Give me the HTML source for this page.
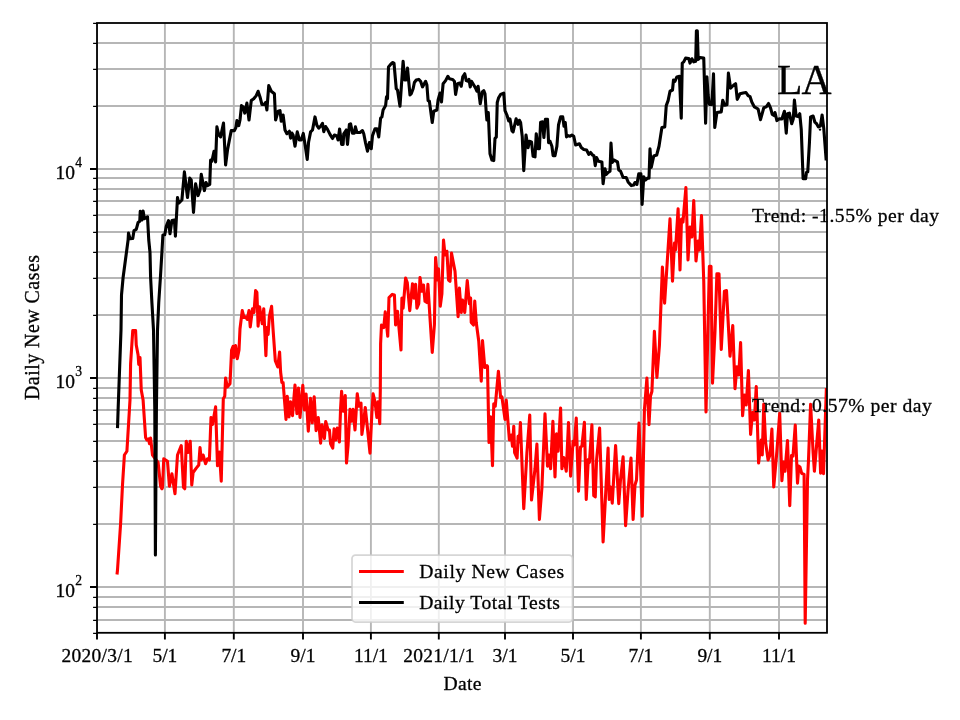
<!DOCTYPE html>
<html lang="en"><head><meta charset="utf-8"><title>LA</title>
<style>html,body{margin:0;padding:0;background:#fff;}body{width:960px;height:720px;overflow:hidden;}svg{display:block;}text{font-family:"Liberation Serif",serif;fill:#000;stroke:#000;stroke-width:0.3px;}</style></head><body>
<svg width="960" height="720" viewBox="0 0 960 720">
<rect x="0" y="0" width="960" height="720" fill="#ffffff"/>
<defs><clipPath id="ax"><rect x="97.0" y="23.0" width="730.0" height="609.8"/></clipPath></defs>
<path d="M97 23.0V632.8M164.9 23.0V632.8M233.8 23.0V632.8M303 23.0V632.8M370.9 23.0V632.8M438.8 23.0V632.8M505 23.0V632.8M573 23.0V632.8M640.9 23.0V632.8M709.8 23.0V632.8M779 23.0V632.8M97.0 587H827.0M97.0 378H827.0M97.0 169H827.0M97.0 620H827.0M97.0 607H827.0M97.0 597H827.0M97.0 524H827.0M97.0 487H827.0M97.0 461H827.0M97.0 441H827.0M97.0 424H827.0M97.0 410H827.0M97.0 398H827.0M97.0 388H827.0M97.0 315H827.0M97.0 278H827.0M97.0 252H827.0M97.0 232H827.0M97.0 215H827.0M97.0 201H827.0M97.0 189H827.0M97.0 178H827.0M97.0 106H827.0M97.0 69H827.0M97.0 43H827.0" stroke="#b6b6b6" stroke-width="1.9" fill="none" clip-path="url(#ax)"/>
<path d="M117.00 574.50 L117.50 570.00 L120.60 523.75 L122.50 485.00 L124.40 455.00 L126.90 451.25 L129.40 410.00 L130.00 400.00 L130.60 363.75 L132.75 330.60 L135.60 330.60 L136.25 345.00 L138.10 355.00 L138.75 364.40 L140.00 357.50 L141.25 390.00 L143.10 400.00 L143.75 410.00 L145.60 437.50 L146.90 440.00 L148.50 439.00 L149.50 443.75 L150.60 438.10 L152.50 455.00 L158.10 462.50 L160.60 486.25 L161.90 488.75 L162.50 487.50 L163.75 458.75 L167.50 461.25 L169.40 486.25 L171.90 473.75 L175.00 493.75 L177.50 455.00 L181.25 445.60 L183.50 487.50 L184.75 488.75 L186.25 441.25 L188.10 452.50 L190.25 441.25 L191.75 485.00 L193.10 472.50 L196.25 468.10 L198.75 465.00 L200.00 447.50 L201.25 460.00 L203.10 455.00 L205.60 463.75 L207.50 458.75 L209.40 460.00 L211.00 417.50 L212.50 424.40 L215.60 406.90 L217.50 465.60 L219.40 452.00 L221.25 481.25 L223.30 398.75 L224.75 396.25 L225.60 378.10 L227.25 386.90 L230.00 383.75 L231.60 350.00 L233.10 346.25 L233.75 357.50 L235.60 345.60 L237.25 358.75 L239.00 350.00 L240.00 328.75 L242.25 310.60 L244.00 317.50 L245.60 316.90 L247.25 319.40 L249.00 310.60 L250.25 326.90 L252.50 308.75 L254.00 312.50 L255.60 290.60 L256.90 292.50 L258.10 326.25 L259.60 306.90 L261.25 317.50 L262.25 323.75 L263.75 308.75 L265.90 355.60 L266.90 327.50 L268.10 334.40 L269.40 316.25 L271.60 306.25 L273.10 330.00 L275.30 360.60 L277.80 367.00 L279.60 352.00 L280.60 372.00 L281.90 382.50 L283.10 382.50 L286.00 419.40 L287.25 396.25 L289.00 416.90 L290.60 401.90 L292.50 415.60 L295.00 385.00 L296.90 413.75 L298.50 388.10 L300.00 417.50 L302.80 385.30 L304.40 410.00 L306.10 394.00 L308.30 431.25 L310.50 398.40 L312.25 422.80 L314.20 396.90 L316.10 430.60 L318.25 417.50 L320.60 443.10 L322.00 424.70 L324.40 438.40 L325.70 421.50 L328.10 430.00 L329.40 430.00 L330.60 443.75 L332.75 448.10 L334.10 428.75 L335.60 440.00 L337.25 428.10 L339.40 441.90 L340.60 408.10 L341.60 391.25 L343.10 411.25 L345.25 395.60 L346.50 463.00 L348.10 445.00 L350.00 409.40 L351.50 421.25 L353.10 409.40 L355.00 430.00 L357.25 393.75 L359.00 406.25 L361.00 403.10 L361.90 434.40 L363.75 421.25 L365.25 407.50 L367.50 428.75 L370.00 453.10 L371.90 412.50 L373.10 393.75 L375.00 401.90 L376.90 417.50 L378.10 401.90 L379.75 423.75 L380.30 390.00 L380.60 343.75 L381.50 325.00 L383.75 327.50 L385.25 311.90 L387.75 336.25 L389.00 297.50 L392.25 294.40 L394.40 295.00 L395.60 325.00 L397.50 311.25 L401.00 350.00 L401.90 298.10 L403.10 308.10 L405.60 278.10 L407.25 282.50 L409.75 310.60 L412.50 283.75 L414.00 298.10 L415.60 284.40 L416.90 308.10 L418.75 303.75 L420.00 277.50 L421.90 291.25 L423.50 285.00 L425.00 301.25 L426.90 302.50 L427.90 284.40 L430.00 318.00 L432.25 352.50 L434.40 325.00 L435.60 257.50 L437.50 280.00 L438.50 268.75 L440.25 306.25 L441.90 293.75 L443.50 240.00 L445.00 255.00 L446.90 251.25 L448.50 280.00 L450.00 281.25 L451.50 253.10 L455.00 271.25 L458.10 316.60 L459.40 288.10 L461.25 312.50 L462.50 300.00 L464.75 312.50 L467.25 280.60 L469.40 303.75 L470.60 298.10 L471.25 322.50 L473.50 325.00 L474.75 301.00 L476.25 322.50 L478.75 341.25 L481.25 381.25 L482.50 340.60 L484.75 367.50 L486.90 365.60 L487.50 366.25 L489.00 442.50 L490.60 416.90 L492.50 465.60 L493.75 403.75 L495.25 406.25 L498.40 371.25 L500.60 397.50 L501.90 396.90 L505.00 419.40 L506.25 400.00 L509.40 440.00 L511.25 435.00 L512.50 446.25 L513.75 426.25 L514.60 452.50 L517.10 458.10 L518.10 436.25 L519.40 442.00 L520.40 422.50 L523.75 508.75 L526.90 453.00 L529.75 415.00 L531.50 500.00 L535.00 468.75 L536.90 444.00 L539.40 519.40 L541.90 488.00 L545.00 413.75 L547.50 466.25 L549.00 455.00 L550.60 468.75 L552.90 421.25 L555.00 476.90 L556.50 433.75 L558.10 451.25 L560.60 408.10 L561.90 468.75 L563.75 457.50 L566.25 471.25 L568.50 422.50 L570.60 476.25 L573.10 441.25 L574.30 445.00 L576.25 418.10 L578.50 491.25 L580.50 447.00 L581.90 446.25 L584.40 422.20 L586.25 499.40 L588.30 459.50 L589.40 462.50 L591.90 424.80 L593.75 495.60 L595.25 496.90 L596.50 461.00 L599.60 428.10 L603.10 541.90 L608.10 448.10 L609.20 499.40 L610.60 487.00 L612.25 503.10 L615.60 445.60 L618.75 503.75 L620.50 480.00 L623.10 456.90 L625.60 525.60 L628.10 490.00 L631.00 458.10 L633.10 519.40 L635.00 485.00 L636.50 480.00 L639.00 423.10 L642.25 516.25 L644.40 410.00 L646.90 378.10 L649.00 424.60 L650.50 396.00 L651.90 391.50 L654.40 331.25 L656.90 377.50 L659.40 345.60 L662.40 267.00 L664.60 303.10 L670.00 218.75 L672.50 281.25 L674.50 243.00 L675.50 250.00 L678.10 208.75 L680.00 270.00 L681.50 219.00 L683.00 222.00 L685.90 187.50 L688.00 260.00 L690.00 227.00 L691.90 237.00 L693.75 200.60 L696.00 261.00 L698.10 241.00 L699.40 250.00 L701.50 215.60 L703.75 281.25 L706.00 412.00 L709.40 266.25 L711.00 266.25 L712.50 383.10 L715.00 331.25 L716.90 273.75 L719.00 273.75 L721.25 349.40 L724.40 291.25 L726.50 290.60 L730.00 356.25 L732.75 325.60 L735.00 388.75 L736.90 366.90 L738.75 375.00 L740.60 342.50 L742.60 415.60 L744.40 395.00 L746.25 405.00 L748.40 370.60 L750.60 434.40 L752.50 412.50 L754.40 420.00 L756.25 386.50 L758.60 463.00 L761.25 440.00 L762.25 455.00 L763.75 404.00 L765.60 442.50 L768.10 460.00 L770.00 455.00 L771.90 429.00 L773.75 486.90 L776.90 451.25 L779.70 413.40 L781.90 480.60 L783.50 462.00 L785.00 471.25 L787.50 440.60 L789.75 505.60 L791.50 455.60 L793.00 456.00 L795.25 425.00 L797.50 483.10 L798.80 466.00 L800.00 467.20 L801.70 473.30 L804.10 474.50 L805.20 623.20 L807.50 480.00 L808.50 460.00 L810.60 404.40 L813.10 452.50 L814.40 471.25 L818.75 420.00 L820.60 473.10 L822.00 451.00 L823.50 473.75 L826.40 388.00" stroke="#ff0000" stroke-width="3.1" fill="none" stroke-linejoin="round" stroke-linecap="butt" clip-path="url(#ax)"/>
<path d="M117.50 428.10 L118.10 410.00 L120.00 357.50 L121.00 330.00 L121.50 295.00 L123.10 277.50 L125.60 258.75 L128.10 240.00 L128.50 233.10 L130.00 238.75 L132.75 238.50 L134.00 230.60 L136.25 229.40 L138.10 222.50 L139.75 221.25 L140.25 211.25 L141.90 220.00 L143.10 211.00 L144.40 218.75 L147.50 216.90 L148.75 240.00 L150.00 252.50 L150.60 277.50 L151.90 302.50 L153.50 330.00 L154.80 410.00 L155.40 555.00 L156.40 410.00 L157.50 330.00 L158.75 302.50 L160.40 277.50 L161.90 252.50 L162.90 235.00 L164.75 234.75 L166.25 226.25 L168.50 220.60 L170.00 233.75 L171.90 220.60 L174.40 220.00 L175.40 236.25 L177.50 197.50 L178.75 203.10 L181.90 200.00 L184.40 171.90 L187.50 197.50 L189.75 178.10 L191.25 180.00 L193.50 212.50 L195.60 183.75 L198.10 195.60 L200.00 190.00 L201.25 174.40 L204.40 190.60 L206.00 182.50 L207.50 185.60 L209.75 184.40 L210.60 160.00 L211.90 161.25 L214.00 151.25 L215.60 161.90 L216.90 126.90 L218.75 135.00 L220.60 136.90 L223.50 123.10 L225.60 165.00 L227.50 150.00 L229.40 140.00 L231.25 130.60 L234.40 130.60 L235.90 127.50 L236.90 120.60 L238.75 125.60 L240.00 120.00 L241.50 105.60 L243.10 106.90 L244.75 113.10 L246.90 103.10 L249.00 120.00 L251.25 100.60 L253.75 98.75 L256.25 95.60 L258.10 91.25 L260.00 96.90 L261.90 104.40 L264.40 104.40 L265.60 102.50 L266.90 110.00 L268.75 85.60 L271.25 91.25 L274.40 93.75 L275.60 120.00 L278.10 111.25 L280.00 110.60 L281.25 121.25 L283.10 115.00 L285.00 130.00 L286.90 133.75 L289.40 131.25 L290.60 138.10 L291.90 133.10 L293.10 135.00 L295.00 146.25 L297.25 131.90 L299.40 140.00 L301.25 140.00 L303.30 133.40 L305.30 146.25 L307.25 159.40 L308.60 142.00 L310.60 131.90 L312.50 130.00 L315.00 116.90 L316.90 125.30 L318.75 128.10 L320.60 126.25 L322.50 123.40 L323.75 131.60 L325.60 126.50 L327.50 129.40 L330.00 134.40 L332.50 138.50 L334.40 135.00 L336.90 136.00 L338.10 140.00 L339.60 129.00 L341.60 144.40 L343.10 144.40 L343.75 133.75 L346.25 130.00 L347.50 144.40 L349.40 124.40 L350.60 123.75 L352.50 133.10 L354.40 133.10 L355.40 126.90 L356.90 132.50 L360.00 132.50 L362.50 130.60 L363.75 133.75 L365.60 143.10 L367.50 151.25 L369.40 142.50 L371.25 148.75 L372.50 135.60 L375.00 128.75 L376.90 128.75 L378.75 136.90 L380.60 118.10 L381.90 116.90 L383.10 110.00 L385.60 105.60 L386.50 96.90 L387.50 98.75 L388.50 66.90 L390.60 64.40 L392.50 62.50 L394.00 63.10 L396.25 88.75 L397.50 90.00 L400.00 106.25 L403.10 61.25 L404.75 80.00 L406.00 80.00 L407.50 68.10 L410.00 95.00 L411.25 93.75 L413.10 88.75 L414.40 82.50 L416.25 80.00 L418.75 79.40 L420.60 81.25 L422.50 86.90 L425.60 81.25 L426.90 85.00 L428.10 100.60 L429.40 101.25 L432.25 122.50 L433.75 111.25 L436.90 110.00 L438.10 100.00 L440.00 93.10 L441.50 101.90 L443.10 83.75 L445.60 80.60 L447.90 76.25 L449.40 78.75 L452.50 79.40 L454.40 81.25 L455.60 94.40 L457.50 83.75 L459.75 83.10 L461.25 86.25 L462.75 76.90 L464.75 73.75 L466.25 80.60 L468.10 81.25 L469.00 79.40 L470.25 86.90 L471.50 81.25 L473.75 85.00 L475.60 88.10 L476.90 91.25 L478.10 86.25 L480.25 103.75 L482.25 91.90 L483.75 90.60 L485.00 93.75 L486.25 112.50 L486.90 120.00 L488.30 112.50 L490.00 153.75 L491.90 160.00 L493.75 160.60 L495.00 138.40 L496.30 137.20 L497.25 102.50 L498.50 98.10 L500.60 94.40 L503.75 93.10 L505.00 110.60 L506.90 115.00 L508.75 121.00 L510.00 119.00 L511.90 130.60 L513.10 131.90 L516.10 118.75 L518.10 124.40 L519.40 120.30 L520.60 122.50 L522.25 136.60 L523.75 170.60 L526.00 135.00 L528.10 147.80 L529.40 141.25 L531.50 141.90 L533.10 156.25 L535.00 156.90 L536.25 133.75 L538.10 148.75 L539.40 148.75 L540.60 122.20 L542.50 121.90 L543.90 137.50 L545.40 119.40 L547.50 119.40 L548.60 142.80 L550.00 141.25 L551.90 146.25 L553.10 155.60 L555.00 155.60 L556.90 146.25 L558.50 125.00 L560.60 116.90 L562.75 116.90 L564.00 126.25 L565.25 122.50 L566.50 136.90 L568.10 135.60 L570.00 136.25 L571.90 135.00 L573.75 136.25 L575.60 145.00 L579.40 143.75 L581.25 147.50 L583.75 149.40 L586.60 150.00 L588.75 154.40 L590.60 152.50 L592.50 155.00 L593.90 155.60 L595.25 165.60 L596.50 157.50 L598.40 161.25 L601.90 161.90 L603.10 183.75 L605.00 168.75 L606.25 174.40 L608.10 172.50 L610.00 171.25 L611.00 143.10 L612.25 162.50 L613.75 160.00 L617.50 161.90 L618.75 170.00 L620.60 171.25 L623.10 177.50 L626.25 177.50 L628.10 181.90 L631.25 185.60 L633.75 185.00 L635.00 182.50 L636.90 184.40 L638.75 173.75 L640.90 173.75 L642.10 204.40 L643.75 176.90 L645.60 180.00 L647.50 178.10 L649.00 178.10 L650.00 148.75 L651.25 167.50 L653.75 156.00 L656.70 155.00 L659.00 146.25 L661.90 127.50 L664.75 126.90 L666.25 105.60 L668.10 100.60 L670.00 91.25 L672.50 90.00 L673.50 80.00 L675.00 81.25 L676.90 76.90 L679.40 76.25 L681.25 118.10 L682.25 63.10 L683.75 61.90 L685.60 58.10 L688.75 58.50 L690.00 63.10 L691.90 58.75 L693.75 61.90 L695.70 61.25 L696.40 30.80 L697.30 30.80 L698.20 59.40 L700.00 57.50 L703.75 58.10 L705.60 123.10 L706.90 76.90 L708.10 95.00 L709.40 104.40 L711.90 104.40 L713.50 73.75 L714.75 127.50 L716.90 112.50 L721.25 111.90 L722.75 100.30 L724.75 105.30 L727.00 104.70 L728.40 73.10 L730.60 88.10 L733.75 85.00 L735.60 83.75 L737.25 99.40 L740.00 93.75 L743.10 93.10 L746.00 92.50 L748.10 95.60 L750.00 96.60 L751.90 102.20 L754.40 106.90 L758.10 109.00 L760.50 119.70 L763.75 107.80 L766.25 106.90 L768.50 103.50 L770.60 108.10 L772.25 114.40 L774.40 115.60 L775.00 112.50 L776.90 120.60 L779.40 118.75 L781.90 119.00 L784.40 111.25 L786.25 133.10 L787.50 113.75 L789.40 113.10 L791.70 123.75 L793.30 118.75 L794.40 100.00 L796.10 116.00 L798.10 116.60 L799.75 113.75 L801.25 129.40 L803.10 178.75 L805.60 178.75 L806.50 172.50 L807.75 171.90 L809.40 143.10 L810.60 116.90 L813.10 116.00 L814.90 122.20 L816.60 123.75 L818.40 126.90 L820.40 126.00 L822.10 115.00 L823.75 128.10 L826.20 160.50" stroke="#000000" stroke-width="3.1" fill="none" stroke-linejoin="round" stroke-linecap="butt" clip-path="url(#ax)"/>
<circle cx="820" cy="129.6" r="1.2" fill="#000"/>
<rect x="97.0" y="23.0" width="730.0" height="609.8" fill="none" stroke="#000" stroke-width="1.8"/>
<path d="M97 632.8v6.8M164.9 632.8v6.8M233.8 632.8v6.8M303 632.8v6.8M370.9 632.8v6.8M438.8 632.8v6.8M505 632.8v6.8M573 632.8v6.8M640.9 632.8v6.8M709.8 632.8v6.8M779 632.8v6.8M97.0 587h-7M97.0 378h-7M97.0 169h-7" stroke="#000" stroke-width="1.9" fill="none"/>
<path d="M97.0 633.4h-3.9M97.0 620.4h-3.9M97.0 607.4h-3.9M97.0 597.4h-3.9M97.0 524.4h-3.9M97.0 487.4h-3.9M97.0 461.4h-3.9M97.0 441.4h-3.9M97.0 424.4h-3.9M97.0 410.4h-3.9M97.0 398.4h-3.9M97.0 388.4h-3.9M97.0 315.4h-3.9M97.0 278.4h-3.9M97.0 252.4h-3.9M97.0 232.4h-3.9M97.0 215.4h-3.9M97.0 201.4h-3.9M97.0 189.4h-3.9M97.0 178.4h-3.9M97.0 106.4h-3.9M97.0 69.4h-3.9M97.0 43.4h-3.9M97.0 23.4h-3.9" stroke="#000" stroke-width="1.3" fill="none"/>
<g style="opacity:0.999">
<text x="61.4" y="662" font-size="19.44" textLength="71.2" lengthAdjust="spacing">2020/3/1</text>
<text x="164.9" y="662" font-size="19.44" text-anchor="middle">5/1</text>
<text x="233.8" y="662" font-size="19.44" text-anchor="middle">7/1</text>
<text x="303.0" y="662" font-size="19.44" text-anchor="middle">9/1</text>
<text x="370.9" y="662" font-size="19.44" text-anchor="middle">11/1</text>
<text x="403.2" y="662" font-size="19.44" textLength="71.2" lengthAdjust="spacing">2021/1/1</text>
<text x="505.0" y="662" font-size="19.44" text-anchor="middle">3/1</text>
<text x="573.0" y="662" font-size="19.44" text-anchor="middle">5/1</text>
<text x="640.9" y="662" font-size="19.44" text-anchor="middle">7/1</text>
<text x="709.8" y="662" font-size="19.44" text-anchor="middle">9/1</text>
<text x="779.0" y="662" font-size="19.44" text-anchor="middle">11/1</text>
<text x="443.6" y="689.7" font-size="19.6" textLength="37.8" lengthAdjust="spacing">Date</text>
<text x="82" y="596.5" font-size="19.44" text-anchor="end">10<tspan font-size="13.6" dy="-11.5" dx="0.2">2</tspan></text>
<text x="82" y="387.5" font-size="19.44" text-anchor="end">10<tspan font-size="13.6" dy="-11.5" dx="0.2">3</tspan></text>
<text x="82" y="178.5" font-size="19.44" text-anchor="end">10<tspan font-size="13.6" dy="-11.5" dx="0.2">4</tspan></text>
<text transform="translate(39.0 400.0) rotate(-90)" font-size="19.9" textLength="145" lengthAdjust="spacing">Daily New Cases</text>
<text x="777.0" y="93.8" font-size="41.6" textLength="54.5" lengthAdjust="spacing">LA</text>
<text x="752.0" y="222.0" font-size="19.6" textLength="187" lengthAdjust="spacing">Trend: -1.55% per day</text>
<text x="752.0" y="411.5" font-size="19.6" textLength="179.8" lengthAdjust="spacing">Trend: 0.57% per day</text>
</g>
<rect x="352" y="555" width="220.5" height="67" rx="3.5" ry="3.5" fill="#ffffff" fill-opacity="0.8" stroke="#cccccc" stroke-opacity="0.8" stroke-width="1.75"/>
<path d="M359 571.5H403.8" stroke="#ff0000" stroke-width="3"/>
<path d="M359 602.5H403.8" stroke="#000000" stroke-width="3"/>
<g style="opacity:0.999">
<text x="419.2" y="578.0" font-size="19.6" textLength="145" lengthAdjust="spacing">Daily New Cases</text>
<text x="419.2" y="609.2" font-size="19.6" textLength="140.8" lengthAdjust="spacing">Daily Total Tests</text>
</g>
</svg></body></html>
